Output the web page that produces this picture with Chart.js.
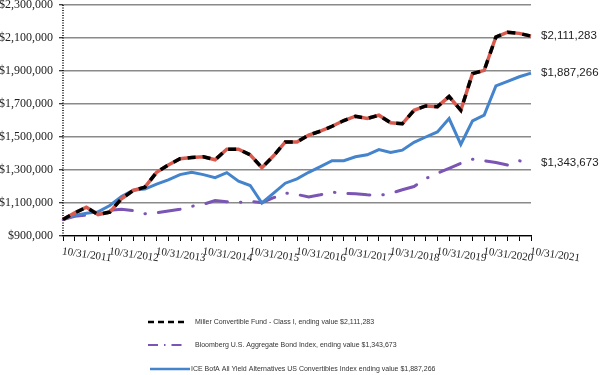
<!DOCTYPE html>
<html>
<head>
<meta charset="utf-8">
<script src="https://cdn.jsdelivr.net/npm/chart.js@4"></script>
<style>
  html, body { margin: 0; padding: 0; background: #fff; }
  #wrap { width: 600px; height: 375px; position: relative; }
</style>
</head>
<body>
<div id="wrap"><canvas id="c" width="600" height="375"></canvas></div>
<script>
// ---- data ----
const categories = [
  "10/31/2011","1/31/2012","4/30/2012","7/31/2012",
  "10/31/2012","1/31/2013","4/30/2013","7/31/2013",
  "10/31/2013","1/31/2014","4/30/2014","7/31/2014",
  "10/31/2014","1/31/2015","4/30/2015","7/31/2015",
  "10/31/2015","1/31/2016","4/30/2016","7/31/2016",
  "10/31/2016","1/31/2017","4/30/2017","7/31/2017",
  "10/31/2017","1/31/2018","4/30/2018","7/31/2018",
  "10/31/2018","1/31/2019","4/30/2019","7/31/2019",
  "10/31/2019","1/31/2020","4/30/2020","7/31/2020",
  "10/31/2020","1/31/2021","4/30/2021","7/31/2021",
  "10/31/2021"
];
const tickLabels = ["10/31/2011","10/31/2012","10/31/2013","10/31/2014","10/31/2015","10/31/2016","10/31/2017","10/31/2018","10/31/2019","10/31/2020","10/31/2021"];
const yTicks = [900000,1100000,1300000,1500000,1700000,1900000,2100000,2300000];

const fundName = "Miller Convertible Fund - Class I, ending value $2,111,283";
const bondName = "Bloomberg U.S. Aggregate Bond Index, ending value $1,343,673";
const convName = "ICE BofA All Yield Alternatives US Convertibles Index ending value $1,887,266";

const fundValues = [
  1000000,1040000,1074000,1030000,1045000,1126000,1176000,1196000,1286000,1330000,
  1368000,1376000,1380000,1362000,1426000,1426000,1392000,1314000,1386000,1470000,
  1470000,1512000,1535000,1565000,1600000,1626000,1612000,1632000,1586000,1580000,
  1662000,1688000,1684000,1745000,1662000,1884000,1904000,2106000,2135000,2128000,
  2111283
];
const bondValues = [
  1000000,1020000,1026000,1045000,1056000,1062000,1054000,1035000,1040000,1052000,
  1062000,1080000,1092000,1115000,1108000,1104000,1110000,1102000,1132000,1160000,
  1152000,1136000,1150000,1166000,1158000,1156000,1150000,1146000,1158000,1180000,
  1200000,1248000,1280000,1310000,1340000,1365000,1356000,1345000,1330000,1356000,
  1343673
];
const convValues = [
  1000000,1025000,1038000,1046000,1085000,1140000,1178000,1184000,1214000,1240000,
  1272000,1286000,1272000,1254000,1284000,1232000,1206000,1100000,1160000,1220000,
  1246000,1286000,1320000,1356000,1356000,1380000,1392000,1424000,1406000,1420000,
  1468000,1500000,1531000,1612000,1455000,1598000,1633000,1810000,1837000,1865000,
  1887266
];

const RED = '#d95a4e', BLUE = '#4484cc', PURPLE = '#7a55b4';
const money = v => '$' + Math.round(v).toLocaleString('en-US');

// ---- plugins ----
const yAxisLinePlugin = {
  id: 'yAxisLine',
  beforeDatasetsDraw(chart) {
    const ctx = chart.ctx, a = chart.chartArea;
    ctx.save();
    ctx.strokeStyle = '#000';
    ctx.lineWidth = 1.5;
    ctx.setLineDash([1, 1.5]);
    ctx.beginPath();
    ctx.moveTo(a.left, a.top);
    ctx.lineTo(a.left, a.bottom);
    ctx.stroke();
    ctx.restore();
  }
};

const xLabelPlugin = {
  id: 'xLabels',
  afterDraw(chart) {
    const ctx = chart.ctx, xs = chart.scales.x, area = chart.chartArea;
    ctx.save();
    ctx.font = '11px "Liberation Serif", "Times New Roman", serif';
    ctx.fillStyle = '#222';
    ctx.textAlign = 'left';
    ctx.textBaseline = 'top';
    categories.forEach((c, i) => {
      if (!tickLabels.includes(c)) return;
      const x = xs.getPixelForValue(i);
      ctx.save();
      ctx.translate(x, area.bottom + 10);
      ctx.rotate(8 * Math.PI / 180);
      ctx.fillText(c, 0, 0);
      ctx.restore();
    });
    ctx.restore();
  }
};

const endLabelPlugin = {
  id: 'endLabels',
  afterDraw(chart) {
    const ctx = chart.ctx, ys = chart.scales.y, area = chart.chartArea;
    ctx.save();
    ctx.font = '11.5px "Liberation Sans", Arial, sans-serif';
    ctx.fillStyle = '#222';
    ctx.textAlign = 'left';
    ctx.textBaseline = 'middle';
    [fundValues, convValues, bondValues].forEach(arr => {
      const v = arr[arr.length - 1];
      ctx.fillText(money(v), area.right + 10, ys.getPixelForValue(v));
    });
    ctx.restore();
  }
};

const legendPlugin = {
  id: 'customLegend',
  afterDraw(chart) {
    const ctx = chart.ctx;
    ctx.save();
    ctx.font = '7px "Liberation Sans", Arial, sans-serif';
    ctx.fillStyle = '#333';
    ctx.textBaseline = 'middle';
    ctx.textAlign = 'left';
    // row 1: fund (black dashed)
    ctx.strokeStyle = '#000'; ctx.lineWidth = 2.5; ctx.setLineDash([6, 4]); ctx.lineCap = 'butt';
    ctx.beginPath(); ctx.moveTo(148, 322); ctx.lineTo(186, 322); ctx.stroke();
    ctx.fillText(fundName, 195, 322);
    // row 2: bond (dash-dot purple)
    ctx.strokeStyle = PURPLE; ctx.lineWidth = 2; ctx.setLineDash([10, 6, 1.5, 6]);
    ctx.beginPath(); ctx.moveTo(148, 345); ctx.lineTo(184, 345); ctx.stroke();
    ctx.fillText(bondName, 195, 345);
    // row 3: conv (solid blue)
    ctx.strokeStyle = BLUE; ctx.lineWidth = 2.5; ctx.setLineDash([]);
    ctx.beginPath(); ctx.moveTo(150, 369); ctx.lineTo(190, 369); ctx.stroke();
    ctx.fillText(convName, 191, 369);
    ctx.restore();
  }
};

new Chart(document.getElementById('c'), {
  type: 'line',
  data: {
    labels: categories,
    datasets: [
      { label: fundName, data: fundValues, borderColor: '#000', borderWidth: 3.5, borderDash: [8, 7], pointRadius: 0, tension: 0, fill: false },
      { label: fundName + ' (base)', data: fundValues, borderColor: RED, borderWidth: 3.5, pointRadius: 0, tension: 0, fill: false },
      { label: convName, data: convValues, borderColor: BLUE, borderWidth: 3, pointRadius: 0, tension: 0, fill: false },
      { label: bondName, data: bondValues, borderColor: PURPLE, borderWidth: 3, borderDash: [22, 13, 0.5, 13], borderCapStyle: 'round', pointRadius: 0, tension: 0, fill: false }
    ]
  },
  options: {
    responsive: false,
    animation: false,
    layout: { padding: { top: 5, right: 69, left: 0, bottom: 0 } },
    plugins: { legend: { display: false }, tooltip: { enabled: false } },
    scales: {
      x: {
        offset: false,
        grid: { display: true, drawOnChartArea: false, drawTicks: true, tickLength: 5, color: '#000', lineWidth: 1 },
        border: { display: true, color: '#000', width: 1.2 },
        ticks: { display: false, autoSkip: false },
        afterFit(s) { s.height = 139; s.paddingLeft = 0; s.paddingRight = 0; }
      },
      y: {
        min: 900000, max: 2300000,
        afterBuildTicks(s) { s.ticks = yTicks.map(v => ({ value: v })); },
        ticks: {
          callback: v => money(v),
          font: { family: '"Liberation Serif", "Times New Roman", serif', size: 12 },
          color: '#222', padding: 6
        },
        grid: { color: '#8a8a8a', lineWidth: 1.5, tickLength: 4, tickColor: '#000', tickWidth: 1 },
        border: { display: false },
        afterFit(s) { s.width = 63; s.paddingTop = 0; s.paddingBottom = 0; }
      }
    }
  },
  plugins: [yAxisLinePlugin, xLabelPlugin, endLabelPlugin, legendPlugin]
});
</script>
</body>
</html>
